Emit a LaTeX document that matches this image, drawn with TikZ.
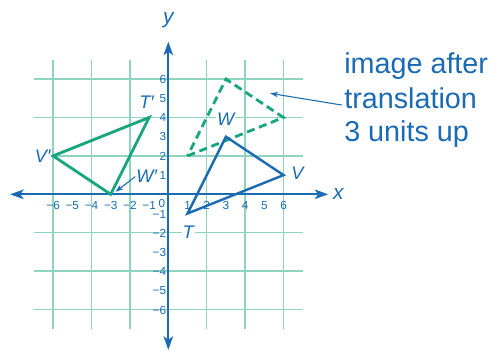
\documentclass[tikz,border=0pt]{standalone}
\usepackage{fontspec}
\setmainfont{Liberation Sans}
\usetikzlibrary{arrows.meta}
\definecolor{ablue}{HTML}{1A6BB3}
\definecolor{agreen}{HTML}{17A67D}
\definecolor{agrid}{HTML}{8FD4BF}
\begin{document}
\begin{tikzpicture}[x=0.5cm,y=0.5cm,
  gridline/.style={agrid, line width=1.15pt},
  axisline/.style={ablue, line width=1.6pt,
    {Stealth[length=10pt,width=7pt,inset=2.5pt]}-{Stealth[length=10pt,width=7pt,inset=2.5pt]}},
  ticklab/.style={ablue, font=\fontsize{8.7}{10}\selectfont, inner sep=0pt},
  vlab/.style={ablue, font=\fontsize{13.5}{14}\selectfont\itshape, fill=white, inner sep=0.6pt},
  axlab/.style={ablue, font=\fontsize{15.5}{16}\selectfont\itshape, inner sep=0pt},
  bluetri/.style={ablue, line width=1.8pt, line join=miter},
  greentri/.style={agreen, line width=2.1pt, line join=miter},
  dashtri/.style={agreen, line width=2.1pt, line join=miter, dash pattern=on 6pt off 3.5pt},
  thinarrow/.style={ablue, line width=0.8pt, -{Stealth[length=6pt,width=4pt]}},
  annot/.style={ablue, font=\fontsize{21.3}{25}\selectfont, inner sep=0pt, anchor=base west}
]
\useasboundingbox (-8.766,-8.16) rectangle (16.91,10.12);

% grid
\draw[gridline] (-7,-7) grid (7,7);

% axes
\coordinate (xmin) at (-8.24,0);
\coordinate (xmax) at (8.33,0);
\coordinate (ymin) at (0,-8.1);
\coordinate (ymax) at (0,7.95);
\draw[axisline] (xmin) -- (xmax);
\draw[axisline] (ymin) -- (ymax);
\node[axlab] (xlab) at (8.85,0) {x};
\node[axlab] (ylab) at (0,9.05) {y};

% tick labels
\foreach \i in {-6,...,-1} {
  \node[ticklab] (xt\i) at (\i,-0.56) {−\the\numexpr-\i\relax};
  \node[ticklab, anchor=east] (yt\i) at (-0.1,\i-0.03) {−\the\numexpr-\i\relax};
}
\foreach \i in {1,...,6} {
  \node[ticklab] (xt\i) at (\i,-0.56) {\i};
  \node[ticklab, anchor=east] (yt\i) at (-0.1,\i) {\i};
}
\node[ticklab] (zero) at (-0.34,-0.46) {0};

% vertices
\coordinate (T) at (1,-1);
\coordinate (V) at (6,1);
\coordinate (W) at (3,3);
\coordinate (T2) at (1,2);
\coordinate (V2) at (6,4);
\coordinate (W2) at (3,6);
\coordinate (Tp) at (-1,4);
\coordinate (Vp) at (-6,2);
\coordinate (Wp) at (-3,0);

% triangles
\draw[dashtri] (T2) -- (V2) -- (W2) -- cycle;
\draw[greentri] (Tp) -- (Vp) -- (Wp) -- cycle;
\draw[bluetri] (T) -- (V) -- (W) -- cycle;

% vertex labels
\node[vlab] (Tlab) at (1.04,-1.95) {T};
\node[vlab] (Vlab) at (6.72,1.09) {V};
\node[vlab] (Wlab) at (2.99,3.9) {W};
\node[vlab] (Tplab) at (-1.13,4.82) {T′};
\node[vlab] (Vplab) at (-6.54,2.0) {V′};
\node[vlab] (Wplab) at (-1.13,0.92) {W′};

% W' pointer
\coordinate (WpTip) at (-2.75,0.13);
\draw[thinarrow] (Wplab.west) -- (WpTip);

% annotation
\node[annot] (a1) at (9.15,6.30) {image after};
\node[annot] (a2) at (9.15,4.47) {translation};
\node[annot] (a3) at (9.15,2.73) {3 units up};
\coordinate (annoStart) at (9.03,4.65);
\coordinate (annoTip) at (5.3,5.26);
\draw[thinarrow] (annoStart) -- (annoTip);
\end{tikzpicture}
\end{document}
